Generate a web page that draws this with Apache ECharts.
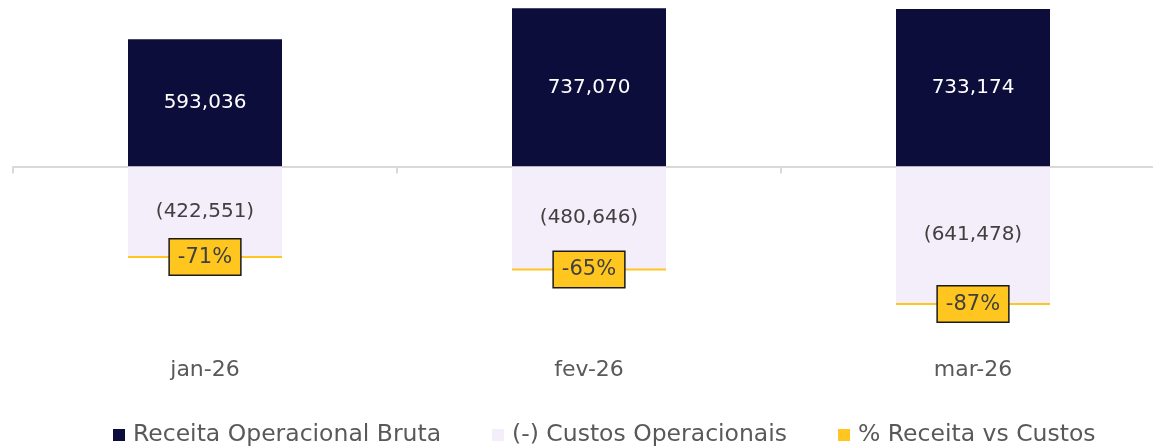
<!DOCTYPE html>
<html>
<head>
<meta charset="utf-8">
<script src="https://cdn.jsdelivr.net/npm/echarts@6/dist/echarts.min.js"></script>
<style>
  html, body { margin: 0; padding: 0; background: #fff; }
  #chart { width: 1153px; height: 446px; }
</style>
</head>
<body>
<div id="chart"></div>
<script>
// dados do gráfico
var meses = ['jan-26', 'fev-26', 'mar-26']
var receitaBruta = [593036, 737070, 733174]
var custosOperacionais = [-422551, -480646, -641478]
var pctReceitaCustos = [-71, -65, -87]

var fonte = 'DejaVu Sans'
var fmtNum = function (v) {
  var s = Math.abs(v).toLocaleString('en-US')
  return v < 0 ? '(' + s + ')' : s
}

var chart = echarts.init(document.getElementById('chart'))
chart.setOption({
  animation: false,
  textStyle: { fontFamily: fonte },
  legend: {
    left: 108,
    top: 418,
    itemWidth: 12,
    itemHeight: 12,
    itemGap: 51,
    icon: 'rect',
    textStyle: { fontFamily: fonte, fontSize: 23.5, color: '#595959', padding: [0, 0, 0, 3] },
    data: ['Receita Operacional Bruta', '(-) Custos Operacionais', '% Receita vs Custos']
  },
  grid: {
    left: 13,
    top: -1,
    width: 1152,
    height: 352,
    outerBoundsMode: 'none'
  },
  xAxis: [
    {
      type: 'category',
      data: meses,
      axisLine: { onZero: true, lineStyle: { color: '#d9d9d9', width: 2 } },
      axisTick: { show: true, length: 7, lineStyle: { color: '#d9d9d9', width: 2 } },
      axisLabel: { show: false }
    },
    {
      type: 'category',
      data: meses,
      position: 'bottom',
      axisLine: { show: false, onZero: false },
      axisTick: { show: false },
      axisLabel: { margin: 8, fontFamily: fonte, fontSize: 22, color: '#595959' }
    }
  ],
  yAxis: {
    type: 'value',
    min: -860000,
    max: 780000,
    show: false,
    splitLine: { show: false }
  },
  series: [
    {
      name: 'Receita Operacional Bruta',
      type: 'bar',
      stack: 'total',
      barWidth: 154,
      itemStyle: { color: '#0d0d3c' },
      label: {
        show: true,
        position: 'inside',
        color: '#ffffff',
        fontFamily: fonte,
        fontSize: 20,
        formatter: function (p) { return fmtNum(p.value) }
      },
      data: receitaBruta
    },
    {
      name: '(-) Custos Operacionais',
      type: 'bar',
      stack: 'total',
      barWidth: 154,
      itemStyle: { color: '#f3eefa' },
      label: {
        show: true,
        position: 'inside',
        color: '#404040',
        fontFamily: fonte,
        fontSize: 20,
        formatter: function (p) { return fmtNum(p.value) }
      },
      data: custosOperacionais
    },
    {
      // linha do percentual desenhada na base da barra de custos
      name: '% Receita vs Custos',
      type: 'scatter',
      symbol: 'rect',
      symbolSize: [154, 2],
      itemStyle: { color: '#ffc61f', opacity: 1 },
      z: 5,
      label: {
        show: true,
        position: 'inside',
        color: '#404040',
        fontFamily: fonte,
        fontSize: 21,
        backgroundColor: '#ffc61f',
        borderColor: '#1a1a1a',
        borderWidth: 1.5,
        padding: [8, 8, 6, 8],
        formatter: function (p) { return pctReceitaCustos[p.dataIndex] + '%' }
      },
      data: custosOperacionais
    }
  ]
})
</script>
</body>
</html>
